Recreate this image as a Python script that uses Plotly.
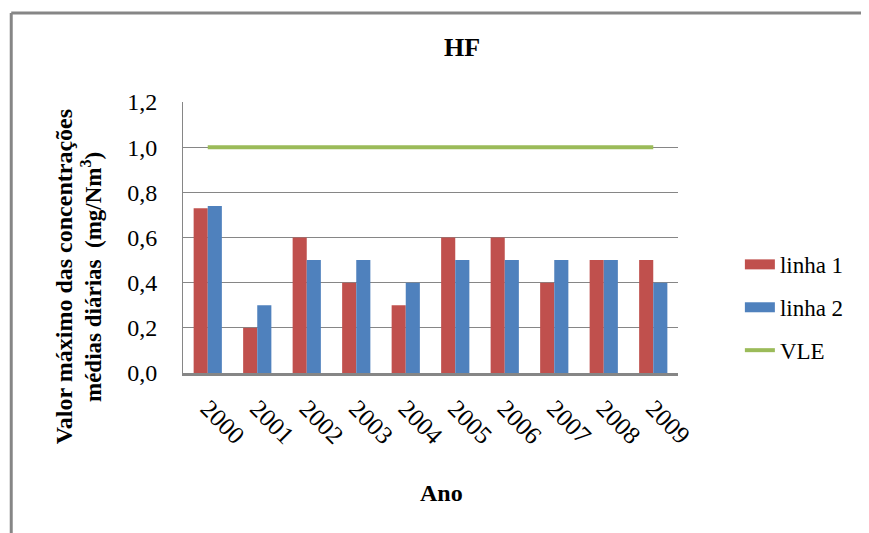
import plotly.graph_objects as go

anos = ['2000', '2001', '2002', '2003', '2004', '2005', '2006', '2007', '2008', '2009']
linha1 = [0.73, 0.2, 0.6, 0.4, 0.3, 0.6, 0.6, 0.4, 0.5, 0.5]
linha2 = [0.74, 0.3, 0.5, 0.5, 0.4, 0.5, 0.5, 0.5, 0.5, 0.4]
vle = [1.0] * len(anos)

vermelho = '#C0504D'
azul = '#4F81BD'
verde = '#9BBB59'
cinza = '#868686'
serif = 'Liberation Serif'

fig = go.Figure()
fig.add_trace(go.Bar(x=anos, y=linha1, marker_color=vermelho, marker_line_width=0,
                     showlegend=False))
fig.add_trace(go.Bar(x=anos, y=linha2, marker_color=azul, marker_line_width=0,
                     showlegend=False))
fig.add_trace(go.Scatter(x=anos, y=vle, mode='lines', line=dict(color=verde, width=4),
                         showlegend=False))

# legend entries drawn as wide strokes, like the original
fig.add_trace(go.Scatter(x=[None], y=[None], mode='lines', name='linha 1',
                         line=dict(color=vermelho, width=11), legendgroup='a'))
fig.add_trace(go.Scatter(x=[None], y=[None], mode='lines', name='linha 2',
                         line=dict(color=azul, width=11), legendgroup='b'))
fig.add_trace(go.Scatter(x=[None], y=[None], mode='lines', name='VLE',
                         line=dict(color=verde, width=4), legendgroup='c'))


def nota(texto, x, y, size, angle=0):
    return dict(text=texto, x=x, y=y, xref='paper', yref='paper', showarrow=False,
                xanchor='center', yanchor='middle', textangle=angle,
                font=dict(family=serif, size=size, color='black'))


# the page puts the figure 8px in from the top-left corner, so the margins shift by 8
fig.update_layout(
    width=869, height=533,
    margin=dict(l=175, r=199, t=94, b=168),
    paper_bgcolor='white', plot_bgcolor='white',
    separators=',.',
    barmode='group', bargap=0.43, bargroupgap=0,
    font=dict(family=serif, size=20, color='black'),
    legend=dict(x=1.125, y=0.48, xanchor='left', yanchor='top',
                tracegroupgap=10, font=dict(family=serif, size=23, color='black'),
                bgcolor='rgba(0,0,0,0)'),
    xaxis=dict(tickangle=45, showline=True, linecolor=cinza, linewidth=3,
               showgrid=False, ticks='', ticklabelstandoff=8,
               tickfont=dict(family=serif, size=25, color='black')),
    yaxis=dict(range=[0, 1.2], dtick=0.2, tickformat='.1f', showgrid=True,
               gridcolor=cinza, gridwidth=1, showline=True, linecolor=cinza,
               linewidth=1, zeroline=False, ticks='', ticklabelstandoff=20,
               tickfont=dict(family=serif, size=24, color='black')),
    annotations=[
        nota('<b>HF</b>', 0.564, 1.2, 26),
        nota('<b>Valor máximo das concentrações</b>', -0.24, 0.354, 24, -90),
        nota('<b>médias diárias  (mg/Nm<sup>3</sup>)</b>', -0.186, 0.354, 23, -90),
        nota('<b>Ano</b>', 0.523, -0.443, 24),
    ],
    shapes=[
        dict(type='line', xref='paper', yref='paper', x0=-0.347, x1=1.42,
             y0=1.328, y1=1.328, line=dict(color=cinza, width=3)),
        dict(type='line', xref='paper', yref='paper', x0=-0.347, x1=-0.347,
             y0=1.328, y1=-0.62, line=dict(color=cinza, width=3)),
    ],
)

fig.write_html('out.html')
